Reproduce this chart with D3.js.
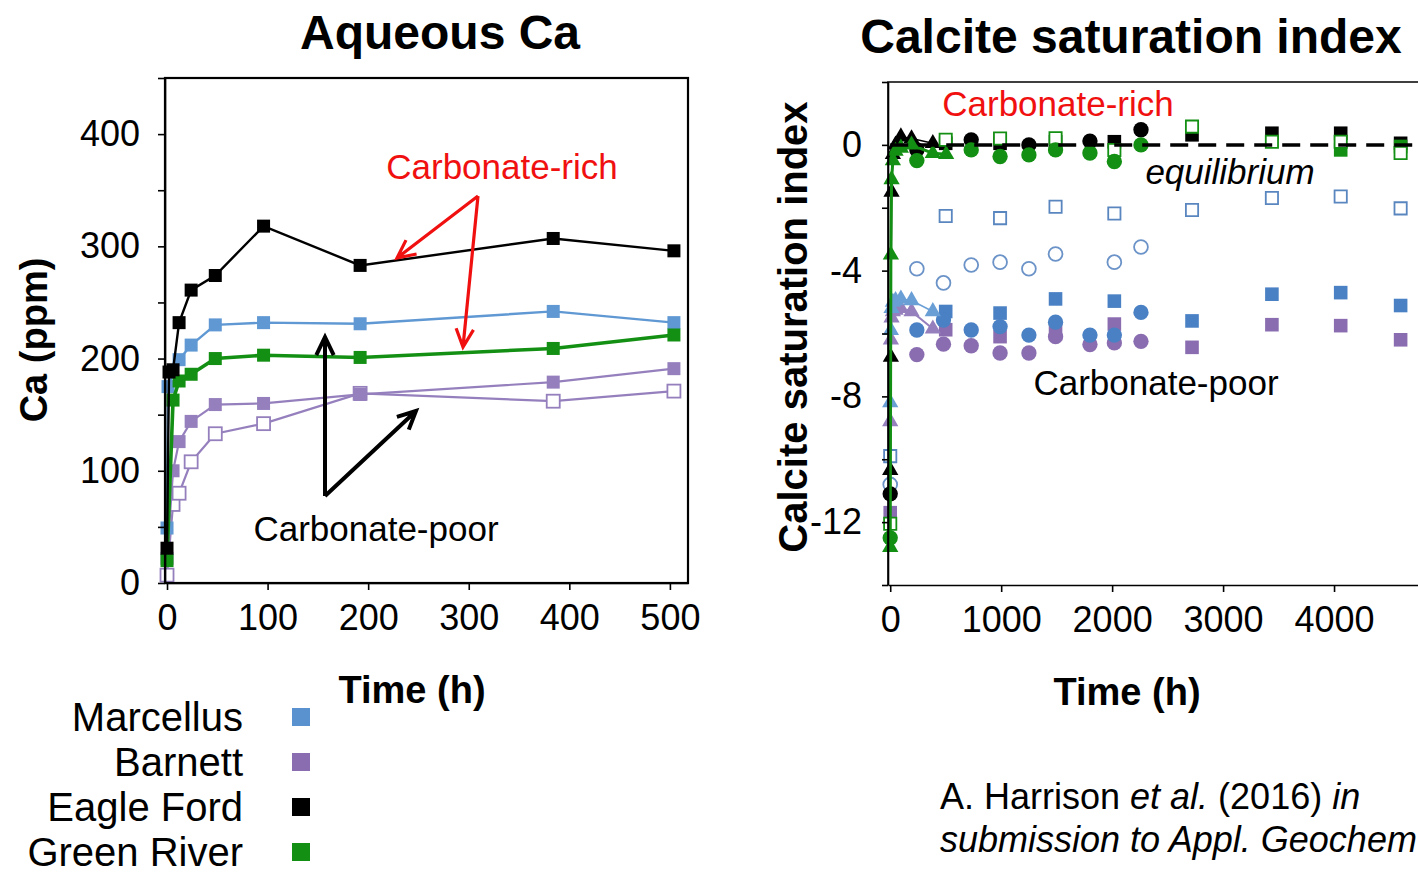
<!DOCTYPE html>
<html>
<head>
<meta charset="utf-8">
<script src="https://cdn.jsdelivr.net/npm/d3@7"></script>
<style>
body { margin: 0; background: #fff; }
svg text { font-family: "Liberation Sans", Arial, sans-serif; }
</style>
</head>
<body>
<div class="chart"></div>
<script>
// colours of the four shales
var blue = "#5a92cf", purple = "#8a6db0", black = "#000", green = "#139013";

// ---- Aqueous Ca (ppm) vs time (h) ----
const caTimesMarcellus = [0, 1, 12, 24, 48, 96, 192, 384, 504];
const caMarcellus      = [49, 175, 199, 212, 230, 232, 231, 242, 232];
const caTimesEagle     = [0, 2, 6, 12, 24, 48, 96, 192, 384, 504];
const caEagleFord      = [31, 188, 190, 232, 261, 274, 318, 283, 307, 296];
const caTimes          = [0, 6, 12, 24, 48, 96, 192, 384, 504];
const caGreenRiver     = [20, 163, 180, 186, 200, 203, 201, 209, 221];
const caBarnett        = [22, 100, 126, 144, 159, 160, 168, 179, 191];
const caBarnettOpen    = [7, 70, 80, 108, 133, 142, 169, 162, 171];

// ---- Calcite saturation index vs time (h) ----
const siSqTimes    = [500, 990, 1490, 2020, 2720, 3440, 4060, 4600];
const siCircTimes  = [240, 480, 730, 990, 1250, 1490, 1800, 2020, 2260];
const siTriTimes   = [0, 6, 12, 24, 48, 96, 192, 384];

const siMarOpenSqT = [0].concat(siSqTimes);
const siMarOpenSq  = [-9.9, -2.26, -2.33, -1.97, -2.18, -2.07, -1.69, -1.64, -2.02];
const siMarOpenCiT = [0, 240, 480, 730, 990, 1250, 1490, 2020, 2260];
const siMarOpenCi  = [-10.8, -3.94, -4.39, -3.82, -3.73, -3.94, -3.47, -3.73, -3.25];
const siMarSq      = [-5.3, -5.35, -4.9, -4.97, -5.6, -4.75, -4.7, -5.11];
const siMarCirc    = [-5.89, -5.57, -5.89, -5.78, -6.05, -5.64, -6.05, -6.05, -5.33];
const siMarTri     = [-8.2, -5.9, -5.2, -5.0, -4.95, -4.9, -4.95, -5.3];

const siBarSqT     = [0].concat(siSqTimes);
const siBarSq      = [-11.7, -5.88, -6.1, -5.85, -5.7, -6.44, -5.72, -5.75, -6.2];
const siBarCirc    = [-6.67, -6.34, -6.39, -6.62, -6.62, -6.1, -6.35, -6.3, -6.25];
const siBarTri     = [-8.8, -6.2, -5.5, -5.3, -5.25, -5.2, -5.3, -5.85];

const siEagSq      = [0.05, 0.05, 0.1, 0.1, 0.32, 0.37, 0.37, 0.05];
const siEagCircT   = [0, 240, 730, 1250, 1800, 2260];
const siEagCirc    = [-11.1, -0.16, 0.16, 0.0, 0.12, 0.48];
const siEagTri     = [-10.35, -6.75, -1.5, -0.3, 0.0, 0.26, 0.2, 0.05];

const siGreCircT   = [0, 240, 730, 990, 1250, 1490, 1800, 2020, 2260];
const siGreCirc    = [-12.5, -0.5, -0.16, -0.37, -0.32, -0.16, -0.26, -0.53, 0.0];
const siGreOpenSqT = [0].concat(siSqTimes);
const siGreOpenSq  = [-12.05, 0.16, 0.2, 0.21, -0.16, 0.58, 0.1, 0.1, -0.26];
const siGreSqT     = [4060, 4600];
const siGreSq      = [-0.16, -0.05];
const siGreTriT    = [0, 6, 12, 24, 48, 96, 192, 384, 504];
const siGreTri     = [-12.8, -3.5, -1.1, -0.5, -0.2, -0.1, 0.0, -0.27, -0.3];

const legendNames  = ["Marcellus", "Barnett", "Eagle Ford", "Green River"];
const legendColors = [blue, purple, black, green];

var width = 1418, height = 875;
var svg = d3.select(".chart").append("svg")
    .attr("width", width)
    .attr("height", height);

// =============== left chart ===============
var left = {x0: 165, x1: 688, y0: 78, y1: 583};
var xCa = d3.scaleLinear().domain([-2, 518]).range([left.x0, left.x1]);
var yCa = d3.scaleLinear().domain([0, 450]).range([left.y1, left.y0]);

var line = d3.line();

function drawCa(times, values, color, lw, open) {
    var pts = times.map(function(t, i){ return [xCa(t), yCa(values[i])]; });
    svg.append("path")
        .attr("d", line(pts))
        .attr("fill", "none")
        .attr("stroke", color)
        .attr("stroke-width", lw);
    svg.selectAll(null)
        .data(pts)
        .enter()
        .append("rect")
        .attr("x", function(d){ return d[0] - 6.5; })
        .attr("y", function(d){ return d[1] - 6.5; })
        .attr("width", 13)
        .attr("height", 13)
        .attr("fill", open ? "#fff" : color)
        .attr("stroke", open ? color : "none")
        .attr("stroke-width", 1.8);
}

drawCa(caTimes, caBarnettOpen, "#9580bd", 2.2, true);
drawCa(caTimes, caBarnett, "#9580bd", 2.2, false);
drawCa(caTimesMarcellus, caMarcellus, "#5f98d3", 2.4, false);
drawCa(caTimes, caGreenRiver, green, 3.6, false);
drawCa(caTimesEagle, caEagleFord, black, 2.4, false);

// axes of the left chart
svg.append("g")
    .attr("class", "axis")
    .attr("transform", "translate(0," + left.y1 + ")")
    .call(d3.axisBottom(xCa).tickValues(d3.range(0, 501, 100)).tickSize(7).tickSizeOuter(0).tickPadding(14));
svg.append("g")
    .attr("class", "axis")
    .attr("transform", "translate(" + left.x0 + ",0)")
    .call(d3.axisLeft(yCa).tickValues(d3.range(0, 451, 50)).tickSize(7).tickSizeOuter(0).tickPadding(18)
        .tickFormat(function(d){ return (d % 100 == 0 && d < 450) ? d : ""; }));
svg.append("rect")
    .attr("x", left.x0).attr("y", left.y0)
    .attr("width", left.x1 - left.x0).attr("height", left.y1 - left.y0)
    .attr("fill", "none").attr("stroke", "#000").attr("stroke-width", 2.2);

// =============== right chart ===============
var right = {x0: 888, x1: 1445, y0: 82, y1: 585};
var xSi = d3.scaleLinear().domain([-20, 5000]).range([right.x0, right.x1]);
var ySi = d3.scaleLinear().domain([-14, 2]).range([right.y1, right.y0]);

function drawSi(times, values, color, shape, open, lw) {
    var pts = times.map(function(t, i){ return [xSi(t), ySi(values[i])]; });
    if (lw) {
        svg.append("path")
            .attr("d", line(pts))
            .attr("fill", "none")
            .attr("stroke", color)
            .attr("stroke-width", lw);
    }
    var type = shape == "square" ? d3.symbolSquare : (shape == "circle" ? d3.symbolCircle : d3.symbolTriangle);
    var size = shape == "square" ? (open ? 150 : 185) : (shape == "circle" ? (open ? 150 : 185) : 115);
    svg.selectAll(null)
        .data(pts)
        .enter()
        .append("path")
        .attr("transform", function(d){ return "translate(" + d[0] + "," + d[1] + ")"; })
        .attr("d", d3.symbol().type(type).size(size))
        .attr("fill", open ? "#fff" : color)
        .attr("stroke", open ? color : "none")
        .attr("stroke-width", 1.8);
}

// Barnett
drawSi(siBarSqT, siBarSq, purple, "square", false);
drawSi(siCircTimes, siBarCirc, purple, "circle", false);
drawSi(siTriTimes, siBarTri, "#9580bd", "triangle", false, 2);
// Marcellus
drawSi(siSqTimes, siMarSq, "#4a80c4", "square", false);
drawSi(siCircTimes, siMarCirc, "#4a80c4", "circle", false);
drawSi(siMarOpenSqT, siMarOpenSq, "#5a86c0", "square", true);
drawSi(siMarOpenCiT, siMarOpenCi, "#6b93c8", "circle", true);
drawSi(siTriTimes, siMarTri, "#6a9fd6", "triangle", false, 1.5);
// Eagle Ford
drawSi(siSqTimes, siEagSq, black, "square", false);
drawSi(siEagCircT, siEagCirc, black, "circle", false);
drawSi(siTriTimes, siEagTri, black, "triangle", false, 1.5);
// Green River
drawSi(siGreSqT, siGreSq, green, "square", false);
drawSi(siGreOpenSqT, siGreOpenSq, green, "square", true);
drawSi(siGreCircT, siGreCirc, green, "circle", false);
drawSi(siGreTriT, siGreTri, green, "triangle", false, 3);

// equilibrium line
svg.append("line")
    .attr("x1", xSi(0)).attr("x2", width)
    .attr("y1", ySi(0)).attr("y2", ySi(0))
    .attr("stroke", "#000").attr("stroke-width", 3.5)
    .attr("stroke-dasharray", "18,10");

svg.append("g")
    .attr("class", "axis")
    .attr("transform", "translate(0," + right.y1 + ")")
    .call(d3.axisBottom(xSi).tickValues(d3.range(0, 5001, 1000)).tickSize(7).tickSizeOuter(0).tickPadding(14)
        .tickFormat(function(d){ return d < 5000 ? d : ""; }));
svg.append("g")
    .attr("class", "axis")
    .attr("transform", "translate(" + right.x0 + ",0)")
    .call(d3.axisLeft(ySi).tickValues(d3.range(-14, 3, 2)).tickSize(6).tickSizeOuter(0).tickPadding(20)
        .tickFormat(function(d){ return (d % 4 == 0 && d <= 0 && d > -14) ? d : ""; }));
svg.append("path")
    .attr("d", "M" + right.x0 + "," + right.y1 + "V" + right.y0 + "H" + right.x1)
    .attr("fill", "none").attr("stroke", "#000").attr("stroke-width", 1.6);

svg.selectAll(".axis text").style("font-size", "36px").attr("fill", "#000");
svg.selectAll(".axis line, .axis path").attr("stroke", "#000").attr("stroke-width", 1.6);

// =============== titles and labels ===============
function label(x, y, txt, size, opts) {
    opts = opts || {};
    return svg.append("text")
        .attr("x", x).attr("y", y)
        .attr("text-anchor", opts.anchor || "middle")
        .attr("font-size", size)
        .attr("font-weight", opts.bold ? "bold" : "normal")
        .attr("font-style", opts.italic ? "italic" : "normal")
        .attr("fill", opts.color || "#000")
        .attr("transform", opts.rotate ? "rotate(-90," + x + "," + y + ")" : null)
        .text(txt);
}

label(440, 49, "Aqueous Ca", 48, {bold: true});
label(1131, 53, "Calcite saturation index", 48, {bold: true});
label(412, 703, "Time (h)", 38, {bold: true});
label(1127, 705, "Time (h)", 38, {bold: true});
label(47, 340, "Ca (ppm)", 38, {bold: true, rotate: true});
label(807, 327, "Calcite saturation index", 40, {bold: true, rotate: true});

label(502, 179, "Carbonate-rich", 35, {color: "#f01010"});
label(376, 541, "Carbonate-poor", 35);
label(1058, 116, "Carbonate-rich", 35, {color: "#f01010"});
label(1230, 184, "equilibrium", 35, {italic: true});
label(1156, 395, "Carbonate-poor", 35);

// citation
var cite = svg.append("text").attr("x", 940).attr("y", 809).attr("font-size", 36);
cite.append("tspan").text("A. Harrison ");
cite.append("tspan").attr("font-style", "italic").text("et al.");
cite.append("tspan").text(" (2016) ");
cite.append("tspan").attr("font-style", "italic").text("in");
label(940, 852, "submission to Appl. Geochem", 36, {italic: true, anchor: "start"});

// arrows
function arrow(x1, y1, x2, y2, color, lw, head) {
    var a = Math.atan2(y2 - y1, x2 - x1), s = 0.45;
    var p1 = [x2 - head * Math.cos(a - s), y2 - head * Math.sin(a - s)];
    var p2 = [x2 - head * Math.cos(a + s), y2 - head * Math.sin(a + s)];
    svg.append("path")
        .attr("d", "M" + x1 + "," + y1 + "L" + x2 + "," + y2 +
            "M" + p1[0] + "," + p1[1] + "L" + x2 + "," + y2 + "L" + p2[0] + "," + p2[1])
        .attr("fill", "none").attr("stroke", color).attr("stroke-width", lw)
        .attr("stroke-linejoin", "miter").attr("stroke-linecap", "butt");
}
arrow(478, 196, 397, 258, "#f01010", 3.2, 20);
arrow(478, 196, 463, 347, "#f01010", 3.2, 20);
arrow(325, 496, 325, 337, "#000", 4, 20);
arrow(325, 496, 416, 411, "#000", 4, 20);

// legend
var legend = svg.selectAll(".legend")
    .data(legendNames)
    .enter()
    .append("g")
    .attr("class", "legend")
    .attr("transform", function(d, i){ return "translate(0," + (717 + i * 45) + ")"; });
legend.append("text")
    .attr("x", 243).attr("y", 14)
    .attr("text-anchor", "end")
    .attr("font-size", 40)
    .text(function(d){ return d; });
legend.append("rect")
    .attr("x", 292).attr("y", -9)
    .attr("width", 18).attr("height", 18)
    .attr("fill", function(d, i){ return legendColors[i]; });
</script>
</body>
</html>
